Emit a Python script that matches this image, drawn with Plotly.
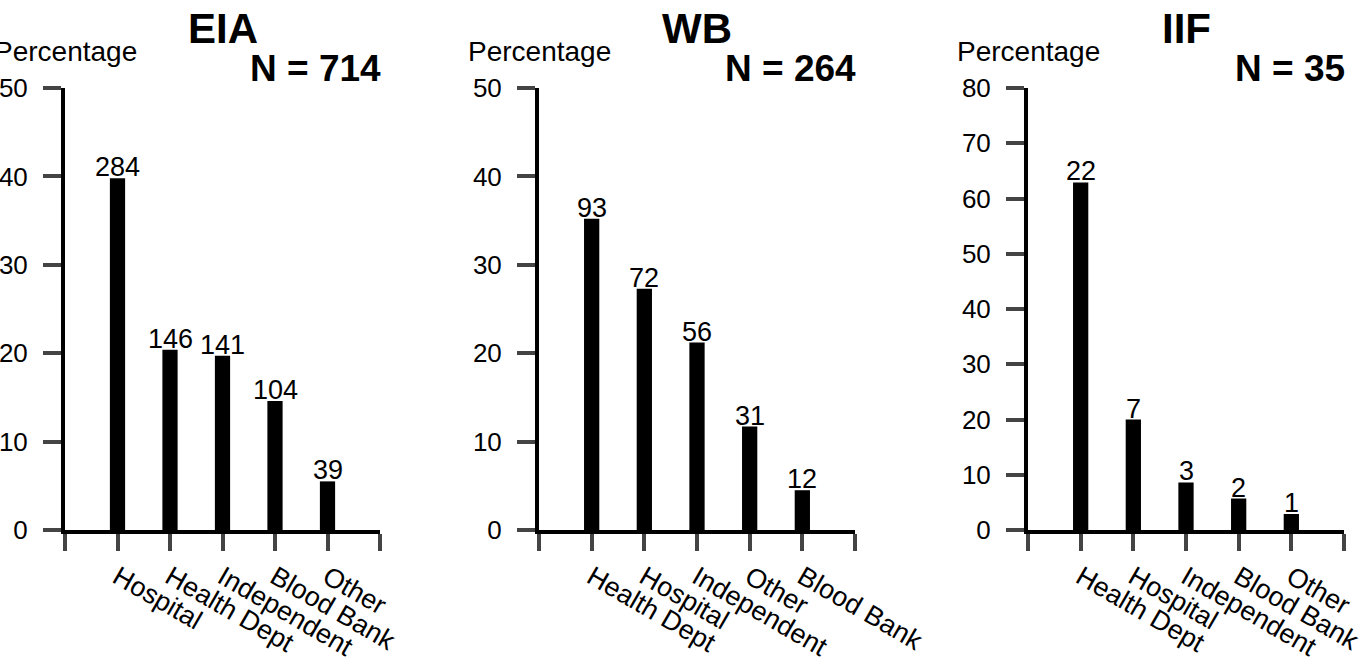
import plotly.graph_objects as go

# ---- data ----
panel_titles = ["EIA", "WB", "IIF"]
panel_n = [714, 264, 35]

eia_cats = ["Hospital", "Health Dept", "Independent", "Blood Bank", "Other"]
eia_counts = [284, 146, 141, 104, 39]
eia_pct = [39.8, 20.4, 19.7, 14.6, 5.5]

wb_cats = ["Health Dept", "Hospital", "Independent", "Other", "Blood Bank"]
wb_counts = [93, 72, 56, 31, 12]
wb_pct = [35.2, 27.3, 21.2, 11.7, 4.5]

iif_cats = ["Health Dept", "Hospital", "Independent", "Blood Bank", "Other"]
iif_counts = [22, 7, 3, 2, 1]
iif_pct = [62.9, 20.0, 8.6, 5.7, 2.9]

y_max = [50, 50, 80]
y_label = "Percentage"

# ---- layout geometry ----
W, H = 1363, 666
FONT = "Liberation Sans, Arial, Helvetica, sans-serif"
dom_px = [(65, 380), (539, 855), (1028, 1344)]
y_top_px, y_bot_px = 88, 530

panels = [
    (eia_cats, eia_counts, eia_pct),
    (wb_cats, wb_counts, wb_pct),
    (iif_cats, iif_counts, iif_pct),
]

fig = go.Figure()
annotations = []
layout_axes = {}

for i, ((cats, counts, pct), title, n, ymax) in enumerate(zip(panels, panel_titles, panel_n, y_max)):
    k = "" if i == 0 else str(i + 1)
    xs = list(range(1, len(cats) + 1))
    fig.add_trace(go.Bar(
        x=xs, y=pct, width=0.29,
        marker=dict(color="black", line=dict(width=0)),
        xaxis="x" + k, yaxis="y" + k, showlegend=False,
        hoverinfo="skip",
    ))
    x0, x1 = dom_px[i]
    xdom = [x0 / W, x1 / W]
    ydom = [1 - y_bot_px / H, 1 - y_top_px / H]
    layout_axes["xaxis" + k] = dict(
        domain=xdom, range=[0, len(cats) + 1], anchor="y" + k,
        tickmode="array", tickvals=list(range(0, len(cats) + 2)),
        ticktext=[""] + cats + [""],
        tickangle=30, ticks="outside", ticklen=17, tickwidth=4,
        showline=True, linewidth=4, linecolor="black",
        showgrid=False, zeroline=False, automargin=False,
        ticklabeloverflow="allow",
        tickfont=dict(family=FONT, size=27, color="black"),
        fixedrange=True,
    )
    layout_axes["yaxis" + k] = dict(
        domain=ydom, range=[0, ymax], anchor="x" + k,
        tickmode="linear", tick0=0, dtick=10,
        ticks="outside", ticklen=18, tickwidth=4,
        showline=True, linewidth=4, linecolor="black",
        showgrid=False, zeroline=False, automargin=False,
        ticklabeloverflow="allow",
        tickfont=dict(family=FONT, size=26, color="black"),
        ticklabelstandoff=10,
        fixedrange=True,
    )
    # count labels above bars
    for xv, yv, c in zip(xs, pct, counts):
        annotations.append(dict(
            x=xv, y=yv, xref="x" + k, yref="y" + k, text=str(c),
            showarrow=False, yanchor="bottom", xanchor="center", yshift=-6,
            font=dict(family=FONT, size=27, color="black"),
        ))
    # panel title
    annotations.append(dict(
        x=(x0 + x1) / 2 / W, y=1 - 28.5 / H, xref="paper", yref="paper",
        text="<b>%s</b>" % title, showarrow=False,
        xanchor="center", yanchor="middle",
        font=dict(family=FONT, size=42, color="black"),
    ))
    # N label
    annotations.append(dict(
        x=(x1 + 3) / W, y=1 - 68.5 / H, xref="paper", yref="paper",
        text="<b>N = %d</b>" % n, showarrow=False,
        xanchor="right", yanchor="middle",
        font=dict(family=FONT, size=37, color="black"),
    ))
    # y label
    annotations.append(dict(
        x=x0 / W, y=1 - 51 / H, xref="paper", yref="paper",
        text=y_label, showarrow=False,
        xanchor="center", yanchor="middle",
        font=dict(family=FONT, size=28, color="black"),
    ))

fig.update_layout(
    width=W, height=H,
    margin=dict(l=0, r=0, t=0, b=0),
    paper_bgcolor="white", plot_bgcolor="white",
    annotations=annotations,
    font=dict(family=FONT, color="black"),
    **layout_axes,
)

fig.write_html(
    "out.html",
    config={"displayModeBar": False},
    post_script="document.body.style.margin='0px';document.body.style.overflow='hidden';",
)
